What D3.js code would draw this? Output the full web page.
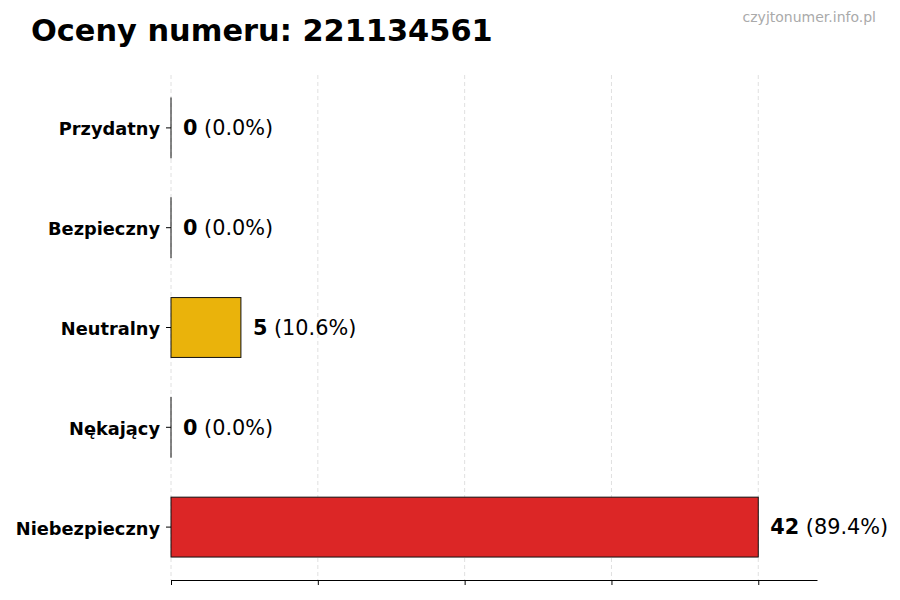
<!DOCTYPE html>
<html>
<head>
<meta charset="utf-8">
<script src="https://cdn.jsdelivr.net/npm/d3@7"></script>
<style>
  body { margin: 0; background: #fff; }
  svg { display: block; font-family: "DejaVu Sans", sans-serif; }
</style>
</head>
<body>
<svg width="900" height="600"></svg>
<script>
// chart data
const categories = ["Przydatny", "Bezpieczny", "Neutralny", "Nękający", "Niebezpieczny"];
const counts = [0, 0, 5, 0, 42];
const percents = ["0.0%", "0.0%", "10.6%", "0.0%", "89.4%"];
const barColors = ["#2e9e3e", "#2e9e3e", "#eab30b", "#e07b1a", "#dc2626"];
const phone = "221134561";

const svg = d3.select("svg");
const margin = { top: 75, right: 83, bottom: 20, left: 171 };
const width = 900, height = 600;
const innerW = width - margin.left - margin.right;
const innerH = height - margin.top - margin.bottom;

const maxVal = d3.max(counts);

const x = d3.scaleLinear()
  .domain([0, maxVal * 1.1])
  .range([0, innerW]);

const y = d3.scaleBand()
  .domain(categories)
  .range([0, innerH])
  .paddingInner(0.4)
  .paddingOuter(0.23);

const g = svg.append("g")
  .attr("transform", `translate(${margin.left},${margin.top})`);

// ticks at quarters of the max
const xTicks = d3.range(5).map(i => maxVal * i / 4);

// grid
g.append("g")
  .selectAll("line")
  .data(xTicks)
  .join("line")
    .attr("x1", d => x(d)).attr("x2", d => x(d))
    .attr("y1", 0).attr("y2", innerH)
    .attr("stroke", "#d8d8d8")
    .attr("stroke-width", 0.8)
    .attr("stroke-dasharray", "4,3");

// bars (tiny width so zero bars still show their edge)
g.append("g")
  .selectAll("rect")
  .data(categories)
  .join("rect")
    .attr("x", x(0))
    .attr("y", d => y(d))
    .attr("width", (d, i) => Math.max(0.01, x(counts[i]) - x(0)))
    .attr("height", y.bandwidth())
    .attr("fill", (d, i) => barColors[i])
    .attr("stroke", "#111")
    .attr("stroke-width", 1);

// value labels
const lab = g.append("g")
  .selectAll("text")
  .data(categories)
  .join("text")
    .attr("x", (d, i) => x(counts[i]) + 12)
    .attr("y", d => y(d) + y.bandwidth() / 2)
    .attr("dy", "0.35em")
    .attr("font-size", "20.8px")
    .attr("fill", "#000");
lab.append("tspan")
  .attr("font-weight", "bold")
  .text((d, i) => counts[i]);
lab.append("tspan")
  .text((d, i) => " (" + percents[i] + ")");

// x axis, no labels
const xAxis = g.append("g")
  .attr("transform", `translate(0,${innerH})`)
  .call(d3.axisBottom(x).tickValues(xTicks).tickFormat("").tickSize(5).tickSizeOuter(0));
xAxis.select(".domain").attr("stroke", "#000").attr("stroke-width", 1);
xAxis.selectAll(".tick line").attr("stroke", "#000");

// y axis
const yAxis = g.append("g")
  .call(d3.axisLeft(y).tickSize(5).tickPadding(6));
yAxis.select(".domain").remove();
yAxis.selectAll(".tick line").attr("stroke", "#000");
yAxis.selectAll(".tick text")
  .attr("font-size", "17.8px")
  .attr("font-weight", "bold")
  .attr("font-family", "DejaVu Sans, sans-serif")
  .attr("dy", "0.42em")
  .attr("fill", "#000");

// title
svg.append("text")
  .attr("x", 31).attr("y", 41)
  .attr("font-size", "30.4px")
  .attr("font-weight", "bold")
  .attr("fill", "#000")
  .text("Oceny numeru: " + phone);

// watermark
svg.append("text")
  .attr("x", 876).attr("y", 22)
  .attr("text-anchor", "end")
  .attr("font-size", "14px")
  .attr("fill", "#aaaaaa")
  .text("czyjtonumer.info.pl");
</script>
</body>
</html>
